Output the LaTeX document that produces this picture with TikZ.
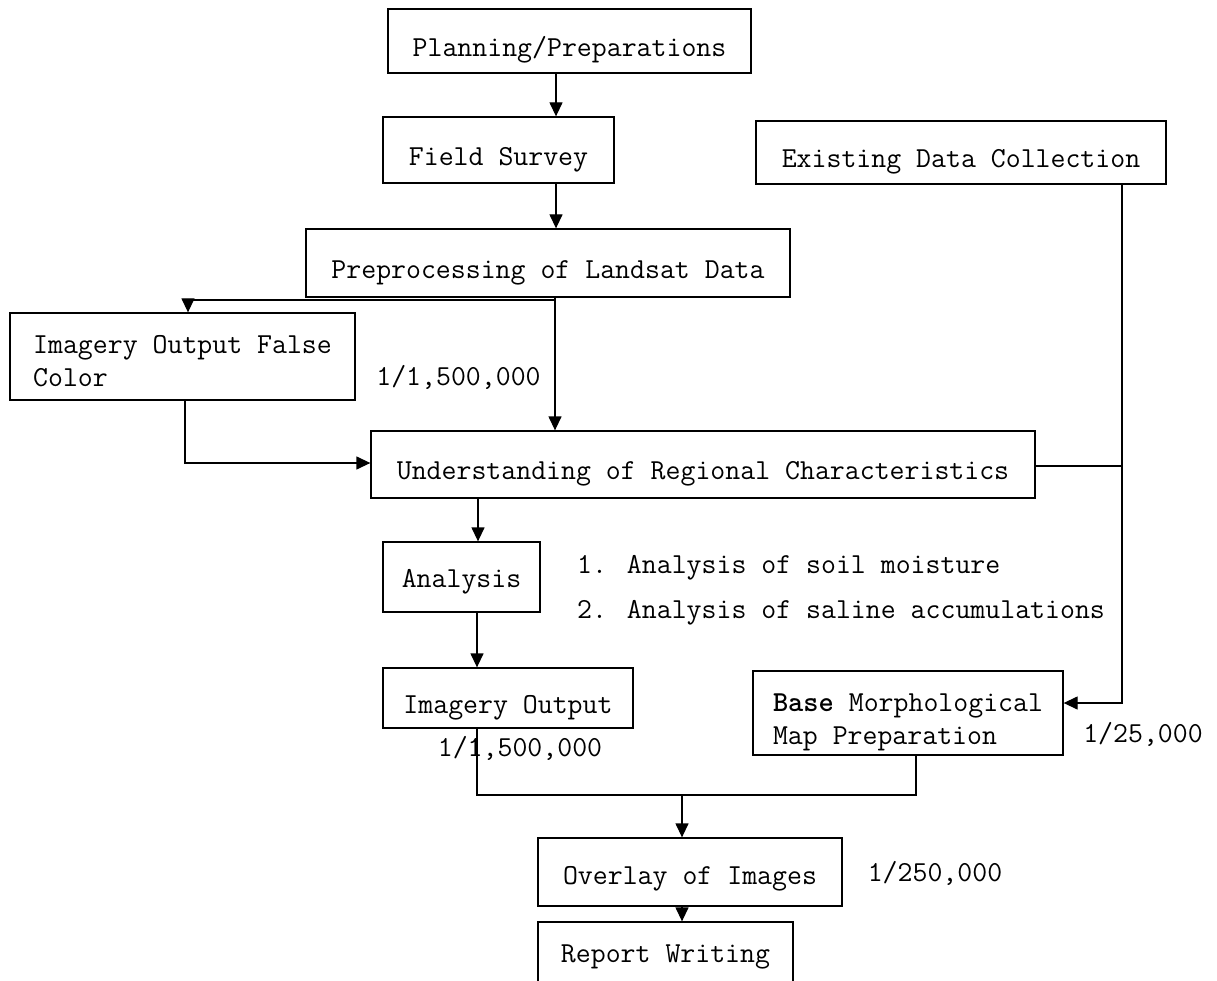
\documentclass[tikz,border=0pt]{standalone}
\usepackage{fontspec}
\usetikzlibrary{arrows.meta}
\begin{document}
\begin{tikzpicture}[x=1pt,y=-1pt,
  box/.style={draw, line width=1.3pt, inner sep=0pt, font=\fontsize{29}{33}\selectfont\ttfamily},
  tsh/.style={text height=#1, text depth=0pt},
  lab/.style={inner sep=0pt, font=\fontsize{29}{33}\selectfont\ttfamily},
  conn/.style={line width=1.3pt},
  arr/.style={conn, -{Triangle[length=14pt,width=13pt]}}]
\useasboundingbox (0,0) rectangle (1217,981);
\clip (0,0) rectangle (1217,981);
\fill[white] (0,0) rectangle (1217,981);

% boxes
\node[box, tsh=32pt, minimum width=363, minimum height=64] (plan) at (569.5,41) {Planning/Preparations};
\node[box, tsh=32pt, minimum width=231, minimum height=66] (field) at (498.5,150) {Field Survey};
\node[box, tsh=32pt, minimum width=484, minimum height=68] (pre) at (548,263) {Preprocessing of Landsat Data};
\node[box, tsh=30pt, minimum width=410, minimum height=63] (exist) at (961,152.5) {Existing Data Collection};
\node[box, minimum width=345, minimum height=87] (ifc) at (182.5,356.5) {};
\node[lab, align=left] (ifct) at (182.5,361.5) {Imagery Output False\\Color};
\node[box, tsh=30pt, minimum width=664, minimum height=67] (und) at (703,464.5) {Understanding of Regional Characteristics};
\node[box, tsh=20pt, minimum width=157, minimum height=70] (ana) at (461.5,577) {Analysis};
\node[box, tsh=30pt, minimum width=250, minimum height=60] (io) at (508,698) {Imagery Output};
\node[box, minimum width=310, minimum height=84] (base) at (908,713) {};
\node[lab, align=left] (baset) at (908,722) {\textbf{Base} Morphological\\Map Preparation};
\node[box, tsh=24pt, minimum width=304, minimum height=68] (ov) at (690,872) {Overlay of Images};
\node[box, tsh=14pt, minimum width=255, minimum height=66] (rep) at (665.5,955) {Report Writing};

% connectors
\coordinate (br) at (555,300);
\coordinate (jn) at (682,795);
\draw[arr] (556,0 |- plan.south) -- (556,0 |- field.north);
\draw[arr] (556,0 |- field.south) -- (556,0 |- pre.north);
\draw[arr] (555,0 |- pre.south) -- (555,0 |- und.north);
\draw[arr] (br) -| (188,0 |- ifc.north);
\draw[arr] (185,0 |- ifc.south) |- (und.west |- 0,463);
\draw[arr] (1122,0 |- exist.south) |- (base.east |- 0,703);
\draw[conn] (und.east |- 0,466) -- (1122,466);
\draw[arr] (478,0 |- und.south) -- (478,0 |- ana.north);
\draw[arr] (477,0 |- ana.south) -- (477,0 |- io.north);
\draw[conn] (477,0 |- io.south) |- (916,795) -- (916,0 |- base.south);
\draw[arr] (jn) -- (682,0 |- ov.north);
\draw[arr] (682,0 |- ov.south) -- (682,0 |- rep.north);

% labels
\node[lab] (s1) at (458.5,377) {1/1,500,000};
\node[lab] (s2) at (520,748) {1/1,500,000};
\node[lab] (s3) at (1143,734) {1/25,000};
\node[lab] (s4) at (935,873) {1/250,000};
\node[lab, anchor=west] (a1) at (577,568) {1. Analysis of soil moisture};
\node[lab, anchor=west] (a2) at (577,613) {2. Analysis of saline accumulations};
\end{tikzpicture}
\end{document}
